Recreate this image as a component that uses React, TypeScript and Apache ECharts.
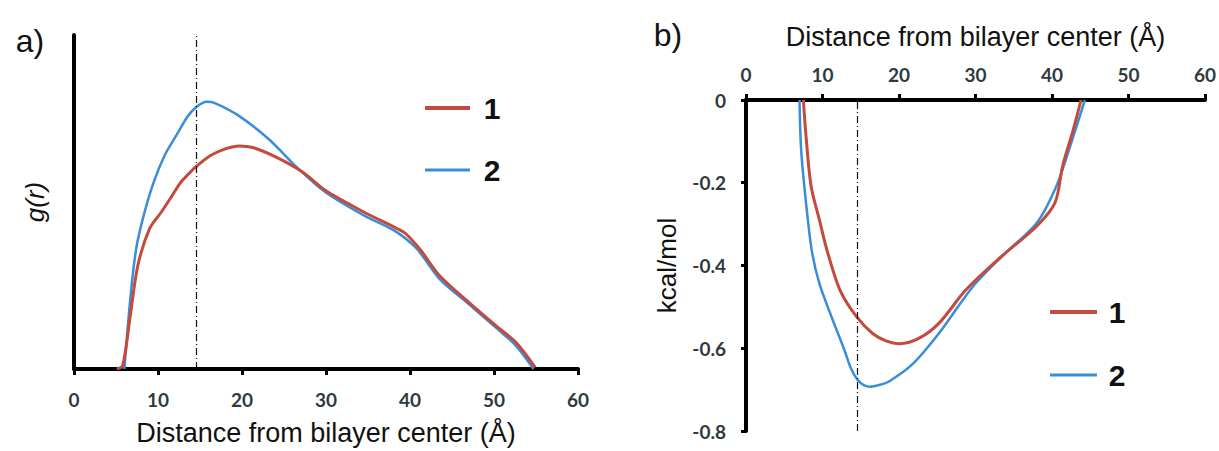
import React, { useEffect, useRef } from "react";
import * as echarts from "echarts";

// ---- Data ----
const X_MIN = 0;
const X_MAX = 60;
const X_INTERVAL = 10;
const MARK_X = 14.5;

// Panel a) g(r), arbitrary units (axis top = 1)
const leftX1 = [5.1, 5.8, 6.7, 7.6, 9.0, 10.4, 11.7, 12.6, 13.1, 14.5, 16.3, 18.1, 19.7, 21.3, 24.0, 27.2, 29.9, 34.5, 38.5, 39.5, 41.3, 43.5, 47.2, 50.4, 52.6, 54.9];
const leftY1 = [0, 0.01, 0.16, 0.31, 0.42, 0.47, 0.52, 0.555, 0.57, 0.605, 0.64, 0.66, 0.668, 0.663, 0.635, 0.59, 0.535, 0.47, 0.42, 0.405, 0.355, 0.28, 0.195, 0.126, 0.08, 0.005];
const leftX2 = [6.0, 6.7, 7.4, 8.3, 9.5, 10.8, 12.2, 13.5, 14.5, 15.8, 16.7, 19.5, 23.1, 26.7, 29.9, 34.5, 38.1, 40.8, 43.5, 47.2, 50.4, 52.6, 54.7];
const leftY2 = [0, 0.21, 0.36, 0.46, 0.56, 0.64, 0.70, 0.755, 0.783, 0.80, 0.797, 0.76, 0.69, 0.60, 0.53, 0.46, 0.415, 0.36, 0.27, 0.19, 0.12, 0.07, 0];

// Panel b) kcal/mol
const rightX1 = [7.5, 7.8, 8.5, 9.6, 10.6, 12.3, 14.5, 16.6, 18.3, 20.1, 22.7, 25.3, 28.7, 33.4, 38.0, 40.4, 41.4, 42.7, 43.8];
const rightY1 = [0, -0.077, -0.207, -0.29, -0.364, -0.46, -0.525, -0.565, -0.582, -0.589, -0.575, -0.538, -0.46, -0.378, -0.305, -0.248, -0.159, -0.077, 0];
const rightX2 = [7.0, 7.2, 7.8, 8.6, 9.6, 11.2, 12.9, 13.7, 14.6, 15.4, 16.2, 17.4, 18.8, 21.8, 25.3, 29.7, 33.9, 38.0, 40.6, 42.4, 44.3];
const rightY2 = [0, -0.118, -0.24, -0.364, -0.444, -0.525, -0.606, -0.648, -0.677, -0.689, -0.693, -0.689, -0.679, -0.638, -0.562, -0.45, -0.37, -0.297, -0.207, -0.11, 0];

const Y_RIGHT_MIN = -0.8;
const Y_RIGHT_MAX = 0;
const Y_RIGHT_INTERVAL = 0.2;

const seriesNames = ["1", "2"];
const X_TITLE = "Distance from bilayer center (Å)";

const RED = "#c44a3c";
const BLUE = "#3a8dd8";
const TITLE_FONT = "Liberation Sans, Arial, sans-serif";
const TICK_FONT = "Lato, sans-serif";

const zip = (xs: number[], ys: number[]) => xs.map((x, i) => [x, ys[i]]);

export default function App() {
  const ref = useRef<HTMLDivElement>(null);

  useEffect(() => {
    document.body.style.margin = "0";
    if (!ref.current) return;
    const chart = echarts.init(ref.current, undefined, { renderer: "svg" });

    const markLine = {
      silent: true,
      symbol: ["none", "none"],
      label: { show: false },
      lineStyle: { color: "#111", width: 1.2, type: [7, 3, 1, 3] },
      data: [{ xAxis: MARK_X }],
    };

    const axisLineStyle = { color: "#000", width: 4 };
    const tickLabel = { fontFamily: TICK_FONT, fontSize: 19, fontWeight: "bold", color: "#2e3a40" };
    const nameStyle = { fontFamily: TITLE_FONT, fontSize: 27, color: "#111" };

    const legendItems = (x0: number, x1: number, xt: number, y1: number, y2: number) => [
      { type: "line", shape: { x1: x0, y1: y1, x2: x1, y2: y1 }, style: { stroke: RED, lineWidth: 4 } },
      { type: "line", shape: { x1: x0, y1: y2, x2: x1, y2: y2 }, style: { stroke: BLUE, lineWidth: 3 } },
      {
        type: "text", x: xt, y: y1,
        style: { text: seriesNames[0], fontFamily: TITLE_FONT, fontSize: 30, fontWeight: "bold", fill: "#111", textAlign: "center", textVerticalAlign: "middle", align: "center", verticalAlign: "middle" },
      },
      {
        type: "text", x: xt, y: y2,
        style: { text: seriesNames[1], fontFamily: TITLE_FONT, fontSize: 30, fontWeight: "bold", fill: "#111", textAlign: "center", textVerticalAlign: "middle", align: "center", verticalAlign: "middle" },
      },
    ];

    chart.setOption({
      animation: false,
      backgroundColor: "#fff",
      grid: [
        { left: 74, top: 35, width: 504, height: 337 },
        { left: 746, top: 100, width: 460, height: 331 },
      ],
      xAxis: [
        {
          gridIndex: 0, type: "value", min: X_MIN, max: X_MAX, interval: X_INTERVAL,
          axisLine: { lineStyle: axisLineStyle },
          axisTick: { show: true, length: 6, lineStyle: { color: "#000", width: 3 } },
          axisLabel: { ...tickLabel, margin: 21 },
          splitLine: { show: false },
          name: X_TITLE, nameLocation: "middle", nameGap: 50, nameTextStyle: nameStyle,
        },
        {
          gridIndex: 1, type: "value", position: "top", min: X_MIN, max: X_MAX, interval: X_INTERVAL,
          axisLine: { onZero: false, lineStyle: axisLineStyle },
          axisTick: { show: true, length: 6, lineStyle: { color: "#000", width: 3 } },
          axisLabel: { ...tickLabel, margin: 16 },
          splitLine: { show: false },
          name: X_TITLE, nameLocation: "middle", nameGap: 50, nameTextStyle: nameStyle,
        },
      ],
      yAxis: [
        {
          gridIndex: 0, type: "value", min: 0, max: 1,
          axisLine: { show: true, lineStyle: axisLineStyle },
          axisTick: { show: false },
          axisLabel: { show: false },
          splitLine: { show: false },
          name: "g(r)", nameLocation: "middle", nameGap: 26,
          nameTextStyle: { ...nameStyle, fontSize: 26, fontStyle: "italic" },
        },
        {
          gridIndex: 1, type: "value", min: Y_RIGHT_MIN, max: Y_RIGHT_MAX, interval: Y_RIGHT_INTERVAL,
          axisLine: { show: true, onZero: false, lineStyle: axisLineStyle },
          axisTick: { show: true, length: 5, lineStyle: { color: "#000", width: 3 } },
          axisLabel: { ...tickLabel, margin: 20 },
          splitLine: { show: false },
          name: "kcal/mol", nameLocation: "middle", nameGap: 66, nameTextStyle: { ...nameStyle, fontSize: 26 },
        },
      ],
      series: [
        {
          name: seriesNames[0], type: "line", xAxisIndex: 0, yAxisIndex: 0, data: zip(leftX1, leftY1),
          showSymbol: false, smooth: 0.3, lineStyle: { color: RED, width: 3 }, itemStyle: { color: RED }, z: 3,
          markLine,
        },
        {
          name: seriesNames[1], type: "line", xAxisIndex: 0, yAxisIndex: 0, data: zip(leftX2, leftY2),
          showSymbol: false, smooth: 0.3, lineStyle: { color: BLUE, width: 2.5 }, itemStyle: { color: BLUE }, z: 2,
        },
        {
          name: seriesNames[0], type: "line", xAxisIndex: 1, yAxisIndex: 1, data: zip(rightX1, rightY1),
          showSymbol: false, smooth: 0.3, lineStyle: { color: RED, width: 3 }, itemStyle: { color: RED }, z: 3,
          markLine,
        },
        {
          name: seriesNames[1], type: "line", xAxisIndex: 1, yAxisIndex: 1, data: zip(rightX2, rightY2),
          showSymbol: false, smooth: 0.3, lineStyle: { color: BLUE, width: 2.5 }, itemStyle: { color: BLUE }, z: 2,
        },
      ],
      graphic: [
        {
          type: "text", x: 30, y: 41,
          style: { text: "a)", fontFamily: TITLE_FONT, fontSize: 32, fill: "#111", textAlign: "center", textVerticalAlign: "middle", align: "center", verticalAlign: "middle" },
        },
        {
          type: "text", x: 668, y: 35,
          style: { text: "b)", fontFamily: TITLE_FONT, fontSize: 32, fill: "#111", textAlign: "center", textVerticalAlign: "middle", align: "center", verticalAlign: "middle" },
        },
        ...legendItems(425, 470, 492, 108, 170),
        ...legendItems(1050, 1097, 1117, 312, 375),
      ],
    });

    return () => chart.dispose();
  }, []);

  return <div ref={ref} style={{ width: 1219, height: 451 }} />;
}
